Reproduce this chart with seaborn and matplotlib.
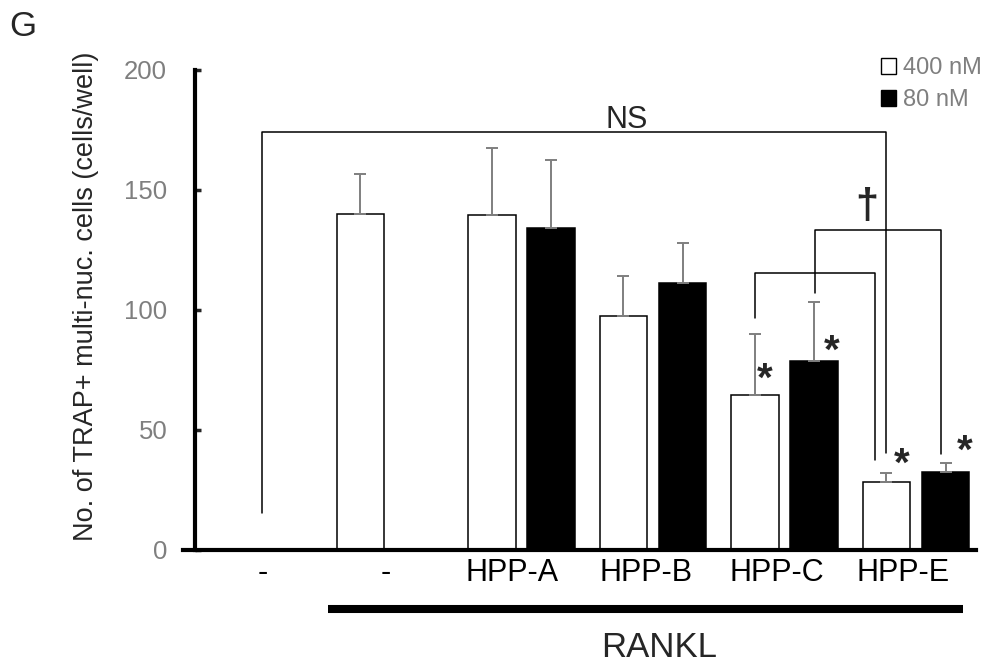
import numpy as np
import pandas as pd
import seaborn as sns
import matplotlib.pyplot as plt
import matplotlib.transforms as mtransforms
from matplotlib.patches import Patch

# --- data ---
groups = ['none', 'RANKL', 'HPP-A', 'HPP-B', 'HPP-C', 'HPP-E']
tick_labels = ['-', '-', 'HPP-A', 'HPP-B', 'HPP-C', 'HPP-E']
doses = ['400 nM', '80 nM']
mean_400 = [np.nan, 140.0, 139.6, 97.5, 64.6, 28.3]
mean_80 = [np.nan, np.nan, 134.2, 111.3, 78.7, 32.5]
sd_400 = [np.nan, 16.7, 28.0, 16.7, 25.4, 3.7]
sd_80 = [np.nan, np.nan, 28.3, 16.6, 24.8, 3.7]

df = pd.DataFrame({
    'group': groups * 2,
    'dose': [doses[0]] * len(groups) + [doses[1]] * len(groups),
    'count': mean_400 + mean_80,
    'sd': sd_400 + sd_80,
}).dropna()

sns.set_style('white')
plt.rcParams['font.family'] = ['Liberation Sans', 'DejaVu Sans']

fig = plt.figure(figsize=(9.86, 6.64), dpi=100)
ax = fig.add_axes([0.1856, 0.1717, 0.8043, 0.7229])

sns.barplot(data=df, x='group', y='count', hue='dose', order=groups,
            hue_order=doses, palette={'400 nM': 'white', '80 nM': 'black'},
            edgecolor='black', linewidth=1.1, width=0.9, gap=0.2,
            errorbar=None, legend=False, ax=ax)

# upper error bars only, grey
offsets = {'400 nM': -0.225, '80 nM': 0.225}
for dose, sub in df.groupby('dose'):
    xs = [groups.index(g) + offsets[dose] for g in sub['group']]
    ax.errorbar(xs, sub['count'], yerr=[np.zeros(len(sub)), sub['sd']],
                fmt='none', ecolor='#7f7f7f', elinewidth=1.4,
                capsize=4, capthick=1.4, zorder=1)

ax.set_xlim(-0.574, 5.456)
ax.set_ylim(0, 200)
ax.set_yticks([0, 50, 100, 150, 200])
# labels sit a little left of the category centres in the original
label_nudge = [0.03, -0.03, -0.07, -0.05, -0.06, -0.1]
ax.set_xticks(np.arange(len(groups)) + np.array(label_nudge))
ax.set_xticklabels(tick_labels, fontsize=22)
ax.set_xlabel('')
ax.set_ylabel('No. of TRAP+ multi-nuc. cells (cells/well)', fontsize=19.5,
              va='center')
ax.yaxis.set_label_coords(-0.122, 0.529)

for s in ['top', 'right']:
    ax.spines[s].set_visible(False)
ax.spines['left'].set_position(('data', -0.483))
ax.spines['left'].set_linewidth(3)
ax.spines['bottom'].set_linewidth(3)
ax.spines['left'].set_color('black')
ax.spines['bottom'].set_color('black')
ax.tick_params(axis='y', direction='in', length=4, width=2.5,
               labelsize=18.5, labelcolor='#7f7f7f', pad=20, left=True)
ax.tick_params(axis='x', length=0, pad=6, labelcolor='black')

# significance brackets
lw = 1.1
ax.plot([0.03, 0.03, 4.775, 4.775], [15.4, 174.3, 174.3, 40.4], c='black', lw=lw)
ax.plot([3.775, 3.775, 4.687, 4.687], [96.7, 115.5, 115.5, 37.5], c='black', lw=lw)
ax.plot([4.23, 4.23, 5.19, 5.19], [107.1, 133.3, 133.3, 40.0], c='black', lw=lw)
ax.text(2.802, 176, 'NS', fontsize=22, ha='center', va='baseline')
ax.text(4.627, 143, '\u2020', fontsize=30, fontweight='bold', ha='center',
        va='center')

star_x = [3.852, 4.361, 4.894, 5.373]
star_y = [75.8, 87.5, 40.4, 45.8]
for x, y in zip(star_x, star_y):
    ax.text(x, y - 9.5, '*', fontsize=29, fontweight='bold', ha='center',
            va='baseline')

# RANKL bar under the axis
trans = mtransforms.blended_transform_factory(ax.transData, ax.transAxes)
ax.plot([0.53, 5.357], [-0.123, -0.123], c='black', lw=5.8,
        solid_capstyle='butt', transform=trans, clip_on=False)
ax.text(3.046, -0.204, 'RANKL', fontsize=25, ha='center', va='center',
        transform=trans)

handles = [Patch(facecolor='white', edgecolor='black', linewidth=1),
           Patch(facecolor='black', edgecolor='black')]
ax.legend(handles, doses, loc='upper right',
          bbox_to_anchor=(982 / 986, 1 - 57 / 664),
          bbox_transform=fig.transFigure, frameon=False, fontsize=17,
          labelcolor='#7f7f7f', handlelength=0.65, handleheight=0.65,
          handletextpad=0.3, labelspacing=0.42, borderpad=0,
          borderaxespad=0)

fig.text(9 / 986, 1 - 27 / 664, 'G', fontsize=25, ha='left', va='center')

fig.savefig('out.png', dpi=100)
